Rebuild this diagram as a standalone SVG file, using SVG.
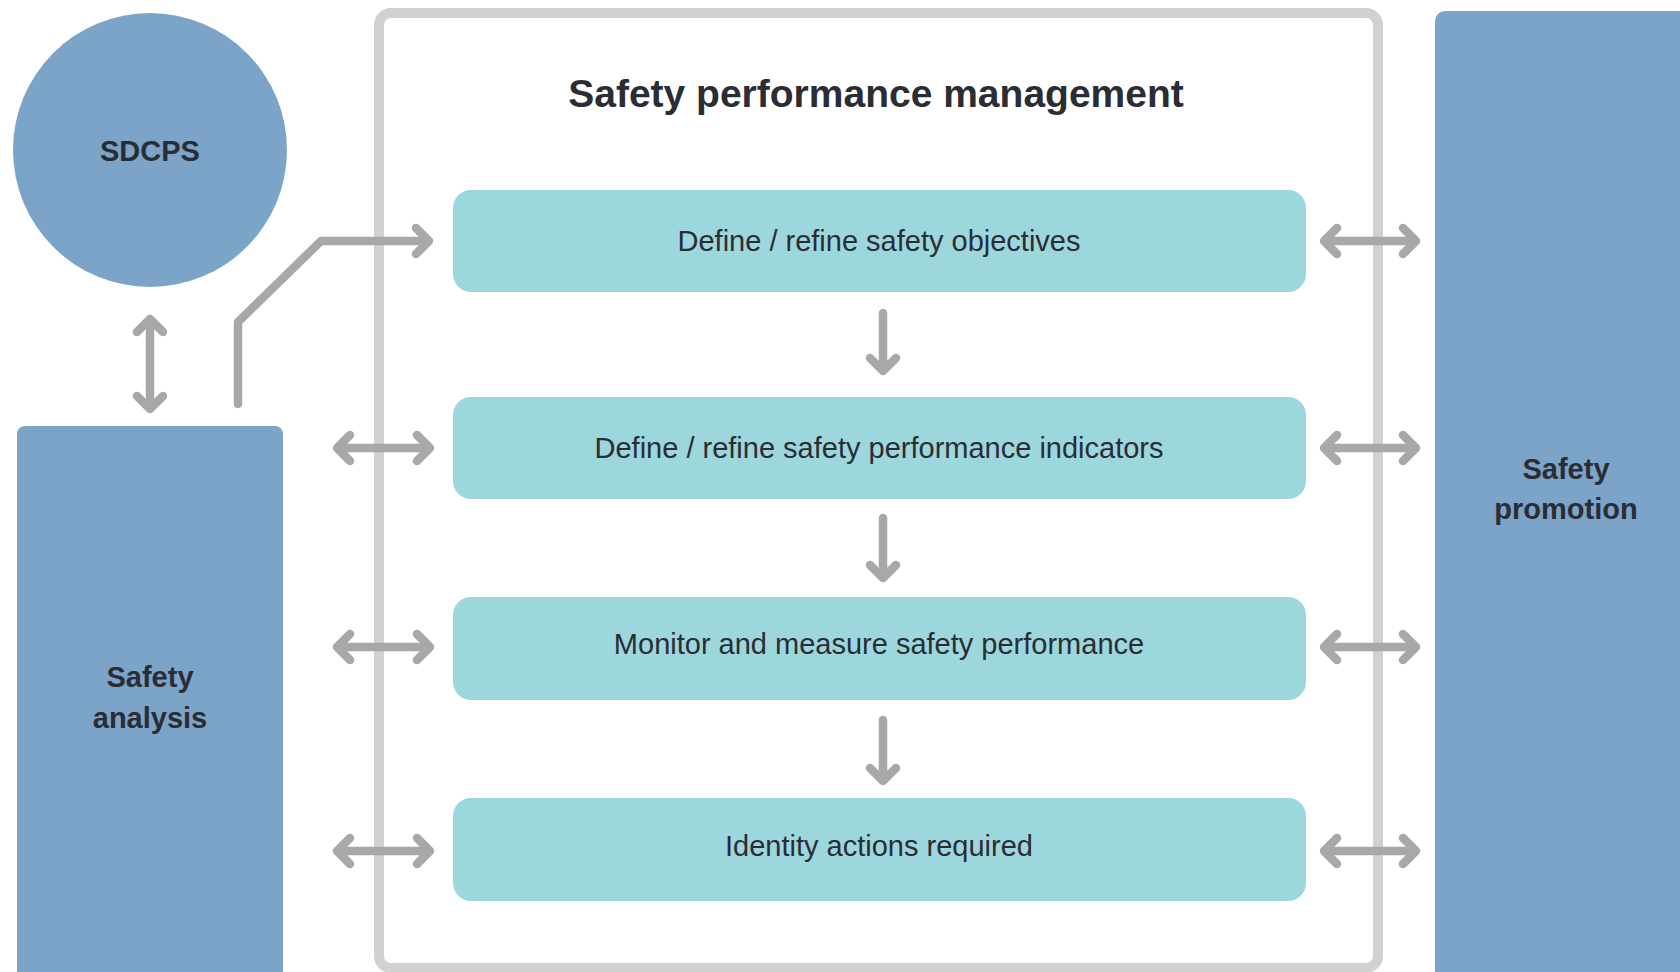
<svg xmlns="http://www.w3.org/2000/svg" width="1680" height="972" viewBox="0 0 1680 972">
<style>
.blue{fill:#7ca3c8}
.step{fill:#9dd7de}
.frame{fill:none;stroke:#d0d1d3;stroke-width:10}
.arr{fill:none;stroke:#a7a8aa;stroke-width:8.5;stroke-linecap:round;stroke-linejoin:round}
.lbl{font-family:"Liberation Sans",Arial,sans-serif;font-weight:bold;font-size:29px;fill:#2a2d33;text-anchor:middle}
.title{font-family:"Liberation Sans",Arial,sans-serif;font-weight:bold;font-size:39px;fill:#2a2d33;text-anchor:middle}
.st{font-family:"Liberation Sans",Arial,sans-serif;font-size:29px;fill:#2a2d33;text-anchor:middle}
</style>
<rect width="1680" height="972" fill="#ffffff"/>
<g id="frame">
<rect class="frame" x="379" y="13" width="999" height="955" rx="12"/>
<text class="title" x="876" y="107">Safety performance management</text>
</g>
<g id="sdcps">
<circle class="blue" cx="150" cy="150" r="137"/>
<text class="lbl" x="150" y="161" font-size="31">SDCPS</text>
</g>
<g id="safety-analysis">
<rect class="blue" x="17" y="426" width="266" height="560" rx="8"/>
<text class="lbl" x="150" y="687">Safety</text>
<text class="lbl" x="150" y="728">analysis</text>
</g>
<g id="safety-promotion">
<rect class="blue" x="1435" y="11" width="260" height="975" rx="10"/>
<text class="lbl" x="1566" y="479">Safety</text>
<text class="lbl" x="1566" y="519">promotion</text>
</g>
<g id="step1">
<rect class="step" x="453" y="190" width="853" height="102" rx="18"/>
<text class="st" x="879" y="251">Define / refine safety objectives</text>
</g>
<g id="step2">
<rect class="step" x="453" y="397" width="853" height="102" rx="18"/>
<text class="st" x="879" y="458">Define / refine safety performance indicators</text>
</g>
<g id="step3">
<rect class="step" x="453" y="597" width="853" height="103" rx="18"/>
<text class="st" x="879" y="654">Monitor and measure safety performance</text>
</g>
<g id="step4">
<rect class="step" x="453" y="798" width="853" height="103" rx="18"/>
<text class="st" x="879" y="856">Identity actions required</text>
</g>
<g id="connectors">
<!-- SDCPS <-> Safety analysis -->
<path class="arr" d="M150 319 V409 M137 332 L150 319 L163 332 M137 396 L150 409 L163 396"/>
<!-- Safety analysis -> step1 -->
<path class="arr" d="M238 404 V322 L321 241 H429 M416 228 L429 241 L416 254"/>
<!-- down arrows -->
<path class="arr" d="M883 313 V371 M870 358 L883 371 L896 358"/>
<path class="arr" d="M883 518 V578 M870 565 L883 578 L896 565"/>
<path class="arr" d="M883 720 V781 M870 768 L883 781 L896 768"/>
<!-- left double arrows -->
<path class="arr" d="M337 448 H430 M350 435 L337 448 L350 461 M417 435 L430 448 L417 461"/>
<path class="arr" d="M337 647 H430 M350 634 L337 647 L350 660 M417 634 L430 647 L417 660"/>
<path class="arr" d="M337 851 H430 M350 838 L337 851 L350 864 M417 838 L430 851 L417 864"/>
<!-- right double arrows -->
<path class="arr" d="M1324 241 H1416 M1337 228 L1324 241 L1337 254 M1403 228 L1416 241 L1403 254"/>
<path class="arr" d="M1324 448 H1416 M1337 435 L1324 448 L1337 461 M1403 435 L1416 448 L1403 461"/>
<path class="arr" d="M1324 647 H1416 M1337 634 L1324 647 L1337 660 M1403 634 L1416 647 L1403 660"/>
<path class="arr" d="M1324 851 H1416 M1337 838 L1324 851 L1337 864 M1403 838 L1416 851 L1403 864"/>
</g>
</svg>
